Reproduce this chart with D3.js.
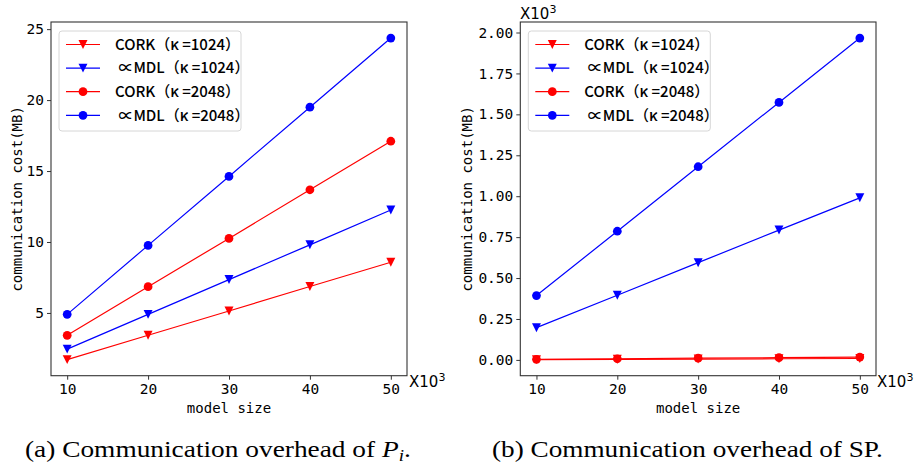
<!DOCTYPE html>
<html>
<head>
<meta charset="utf-8">
<script src="https://cdn.jsdelivr.net/npm/d3@7"></script>
<style>
  body { margin: 0; background: #fff; }
  svg { display: block; }
  .tick text { font-family: "DejaVu Sans Mono", monospace; font-size: 14.5px; fill: #000; }
  .axis-label { font-family: "DejaVu Sans Mono", monospace; font-size: 14px; }
  .legend text { font-family: "Noto Sans CJK SC", sans-serif; font-size: 15px; }
  .caption { font-family: "Liberation Serif", serif; font-size: 23px; }
</style>
</head>
<body>
<div class="canvas"></div>
<script>
const w = 917;
const h = 467;

// model size (x10^3)
const modelSize = [10, 20, 30, 40, 50];

// (a) P_i communication cost (MB)
const piCork1024 = [1.71, 3.43, 5.14, 6.86, 8.57];
const piMdl1024 = [2.45, 4.9, 7.35, 9.8, 12.25];
const piCork2048 = [3.42, 6.85, 10.25, 13.68, 17.1];
const piMdl2048 = [4.9, 9.76, 14.62, 19.5, 24.37];

// (b) SP communication cost (x10^3 MB)
const spCork1024 = [0.0017, 0.0034, 0.0051, 0.0069, 0.0086];
const spMdl1024 = [0.197, 0.395, 0.594, 0.793, 0.99];
const spCork2048 = [0.0034, 0.0069, 0.0103, 0.0137, 0.0171];
const spMdl2048 = [0.393, 0.786, 1.18, 1.573, 1.966];

const seriesNames = ["CORK（κ =1024）", " ∝MDL（κ =1024）", "CORK（κ =2048）", " ∝MDL（κ =2048）"];
const seriesColors = ["#ff0000", "#0000ff", "#ff0000", "#0000ff"];
const seriesMarkers = ["tri", "tri", "circle", "circle"];

const xTicks = [10, 20, 30, 40, 50];
const piTicks = [5, 10, 15, 20, 25];
const spTicks = [0, 0.25, 0.5, 0.75, 1.0, 1.25, 1.5, 1.75, 2.0];

// matplotlib-like triangle_down
const triangleDown = {
  draw(context, size) {
    const a = Math.sqrt(size) / 2;
    context.moveTo(-a, -a);
    context.lineTo(a, -a);
    context.lineTo(0, a);
    context.closePath();
  }
};

const svg = d3.select(".canvas")
  .append("svg")
  .attr("width", w)
  .attr("height", h);

function panel(opts) {
  const g = svg.append("g");
  const x = d3.scaleLinear().domain([8, 52]).range([opts.left, opts.right]);
  const all = opts.series.flat();
  const lo = d3.min(all), hi = d3.max(all), pad = (hi - lo) * 0.05;
  const y = d3.scaleLinear().domain([lo - pad, hi + pad]).range([opts.bottom, opts.top]);

  // series
  opts.series.forEach((vals, i) => {
    const pts = modelSize.map((m, j) => [m, vals[j]]);
    g.append("path")
      .attr("d", d3.line().x(d => x(d[0])).y(d => y(d[1]))(pts))
      .attr("fill", "none")
      .attr("stroke", seriesColors[i])
      .attr("stroke-width", 1.2);
    const sym = seriesMarkers[i] == "tri"
      ? d3.symbol().type(triangleDown).size(80)
      : d3.symbol().type(d3.symbolCircle).size(60);
    g.selectAll(null)
      .data(pts)
      .enter().append("path")
      .attr("transform", d => "translate(" + x(d[0]) + "," + y(d[1]) + ")")
      .attr("d", sym)
      .attr("fill", seriesColors[i]);
  });

  // axes
  g.append("g")
    .attr("transform", "translate(0," + opts.bottom + ")")
    .call(d3.axisBottom(x).tickValues(xTicks).tickSize(4).tickPadding(4))
    .call(a => a.select(".domain").remove());
  g.append("g")
    .attr("transform", "translate(" + opts.left + ",0)")
    .call(d3.axisLeft(y).tickValues(opts.yTicks).tickFormat(opts.yFormat).tickSize(4).tickPadding(3))
    .call(a => a.select(".domain").remove());
  g.selectAll(".tick line").attr("stroke", "#333");

  g.append("rect")
    .attr("x", opts.left).attr("y", opts.top)
    .attr("width", opts.right - opts.left).attr("height", opts.bottom - opts.top)
    .attr("fill", "none").attr("stroke", "#333").attr("stroke-width", 1.1);

  // labels
  g.append("text").attr("class", "axis-label")
    .attr("x", (opts.left + opts.right) / 2).attr("y", opts.bottom + 37)
    .attr("text-anchor", "middle").text("model size");
  g.append("text").attr("class", "axis-label")
    .attr("transform", "translate(" + opts.yLabelX + "," + ((opts.top + opts.bottom) / 2) + ") rotate(-90)")
    .attr("text-anchor", "middle").text("communication cost(MB)");

  // offset labels (x10^3)
  opts.offsets.forEach(o => {
    const t = g.append("text")
      .attr("x", o[0]).attr("y", o[1])
      .style("font-family", "DejaVu Sans").style("font-size", "15px");
    t.append("tspan").text("X10");
    t.append("tspan").attr("dy", -6).style("font-size", "11px").text("3");
  });

  // legend
  const lg = g.append("g").attr("class", "legend")
    .attr("transform", "translate(" + (opts.left + 8) + "," + (opts.top + 9) + ")");
  lg.append("rect")
    .attr("width", 182).attr("height", 100).attr("rx", 3)
    .attr("fill", "#fff").attr("fill-opacity", 0.8)
    .attr("stroke", "#d6d6d6");
  const items = lg.selectAll("g")
    .data(seriesNames)
    .enter().append("g")
    .attr("transform", (d, i) => "translate(0," + (13.5 + i * 23.6) + ")");
  items.append("line")
    .attr("x1", 7).attr("x2", 41)
    .attr("stroke", (d, i) => seriesColors[i]).attr("stroke-width", 1.2);
  items.append("path")
    .attr("transform", "translate(24,0)")
    .attr("d", (d, i) => seriesMarkers[i] == "tri"
      ? d3.symbol().type(triangleDown).size(80)()
      : d3.symbol().type(d3.symbolCircle).size(60)())
    .attr("fill", (d, i) => seriesColors[i]);
  items.append("text")
    .attr("x", 56).attr("dy", "0.35em")
    .attr("xml:space", "preserve")
    .style("font-weight", 500)
    .text(d => d);

  // caption, stretched to the reference width
  const cap = g.append("text").attr("class", "caption")
    .attr("x", 0).attr("y", 0);
  opts.caption(cap);
  const bw = cap.node().getBBox().width;
  cap.attr("transform", "translate(" + opts.capX + ",457) scale(" + (opts.capW / bw) + ",1)");
}

panel({
  left: 51, right: 407, top: 22, bottom: 375.7,
  series: [piCork1024, piMdl1024, piCork2048, piMdl2048],
  yTicks: piTicks, yFormat: d3.format("d"),
  yLabelX: 22,
  offsets: [[409, 387]],
  capX: 25, capW: 386,
  caption: t => {
    t.append("tspan").text("(a) Communication overhead of ");
    t.append("tspan").style("font-style", "italic").text("P");
    t.append("tspan").attr("dy", 4).style("font-size", "16px").style("font-style", "italic").text("i");
    t.append("tspan").attr("dy", -4).text(".");
  }
});

panel({
  left: 520.3, right: 876, top: 22, bottom: 375.7,
  series: [spCork1024, spMdl1024, spCork2048, spMdl2048],
  yTicks: spTicks, yFormat: d3.format(".2f"),
  yLabelX: 472,
  offsets: [[520, 19], [877, 387]],
  capX: 492, capW: 391,
  caption: t => {
    t.append("tspan").text("(b) Communication overhead of SP.");
  }
});
</script>
</body>
</html>
